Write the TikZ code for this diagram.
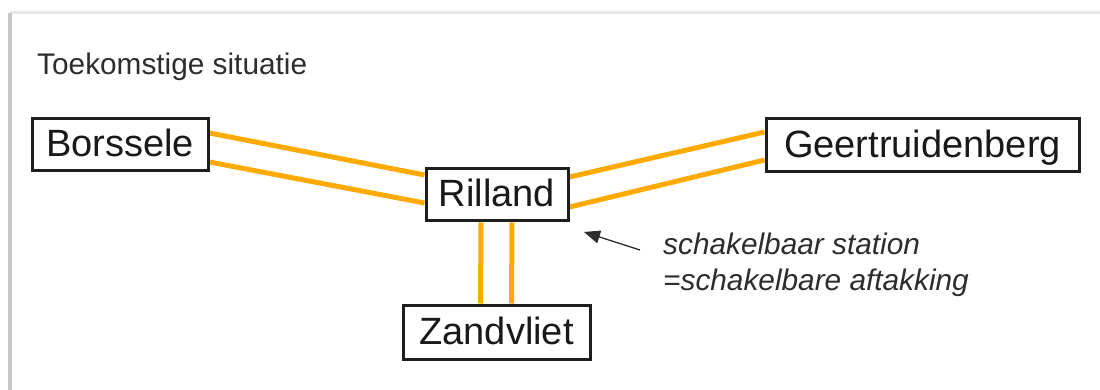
\documentclass[tikz,border=0pt]{standalone}
\usepackage{fontspec}
\setmainfont{Liberation Sans}
\usetikzlibrary{arrows.meta}
\definecolor{feed}{RGB}{255,170,0}
\definecolor{boxline}{RGB}{30,30,30}
\definecolor{txt}{RGB}{45,45,45}
\definecolor{frametop}{RGB}{232,232,232}
\definecolor{frameleft}{RGB}{200,200,200}
\pgfdeclarelayer{bottom}
\pgfdeclarelayer{background}
\pgfsetlayers{bottom,background,main}
\begin{document}
\begin{tikzpicture}[x=1pt,y=-1pt,
  station/.style={draw=boxline,line width=3pt,fill=white,minimum height=52pt,
    inner sep=0pt,text height=30pt,text depth=6pt,
    font=\fontsize{38}{44}\selectfont,text=black!90},
  feeder/.style={draw=feed,line width=5pt},
  pointer/.style={draw=txt,line width=1.3pt,-{Triangle[length=16pt,width=13pt]}},
  note/.style={font=\fontsize{29.8}{36}\selectfont\itshape,text=txt,align=left,inner sep=0pt},
  heading/.style={font=\fontsize{29.8}{36}\selectfont,text=txt,inner sep=0pt}]
\begin{pgfonlayer}{bottom}
  \fill[white] (0,0) rectangle (1100,390);
\end{pgfonlayer}
\useasboundingbox (0,0) rectangle (1100,390);
\draw[frametop,line width=3pt] (10,13) -- (1100,13);
\draw[frameleft,line width=3.5pt] (10,13) -- (10,390);

\node[heading,anchor=base west] (title) at (37,75) {Toekomstige situatie};

\node[station,minimum width=176pt] (B) at (120,145) {Borssele};
\node[station,minimum width=142pt] (R) at (497,195) {Rilland};
\node[station,minimum width=313pt,minimum height=53pt] (G) at (922.5,145.5) {Geertruidenberg};
\node[station,minimum width=187pt,minimum height=54pt] (Z) at (496.5,332) {Zandvliet};

\begin{pgfonlayer}{background}
  \draw[feeder] ([yshift=12pt]B.east) -- ([yshift=20pt]R.west);
  \draw[feeder] ([yshift=-17pt]B.east) -- ([yshift=-8pt]R.west);
  \draw[feeder] ([yshift=18pt]R.east) -- ([yshift=13.5pt]G.west);
  \draw[feeder] ([yshift=-12pt]R.east) -- ([yshift=-14.5pt]G.west);
  \draw[feeder] ([xshift=-16pt]R.south) -- ([xshift=-16pt]Z.north);
  \draw[feeder] ([xshift=15pt]R.south) -- ([xshift=15pt]Z.north);
\end{pgfonlayer}

\node[note,anchor=west] (note) at (663,265) {schakelbaar station\\=schakelbare aftakking};
\coordinate (ntail) at (640,250);
\coordinate (ntip) at (584,232);
\draw[pointer] (ntail) -- (ntip);
\end{tikzpicture}
\end{document}
